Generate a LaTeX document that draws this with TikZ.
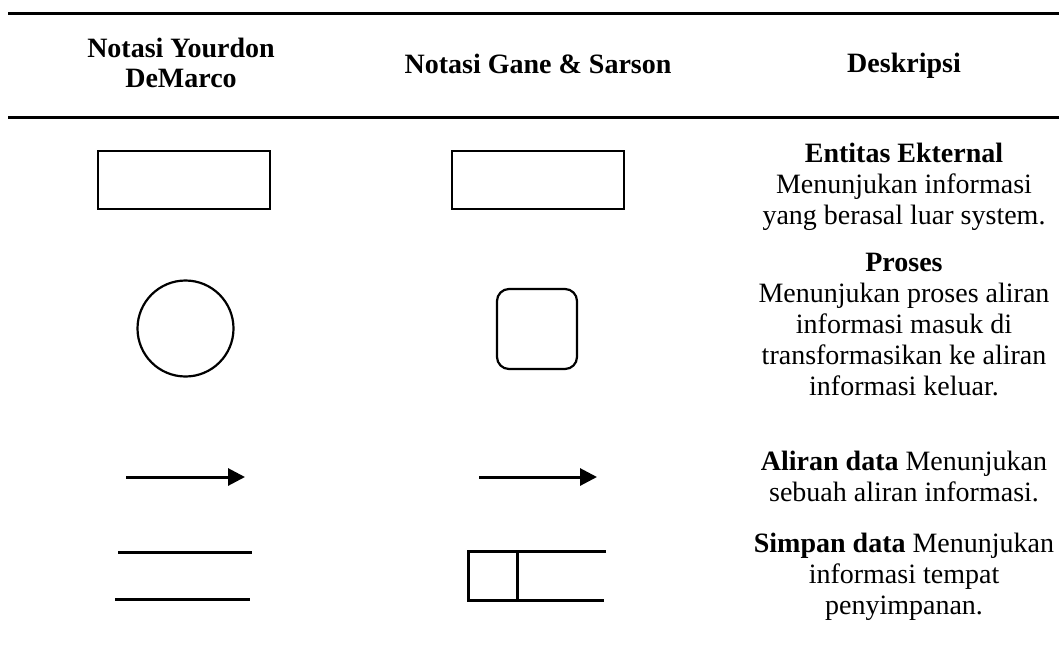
\documentclass[tikz,border=0pt]{standalone}
\usepackage{fontspec}
\setmainfont{Liberation Serif}
\usetikzlibrary{arrows.meta}

\begin{document}
\begin{tikzpicture}[x=1pt,y=-1pt,
  rulefill/.style={line width=2.2pt},
  shapeline/.style={draw,line width=2.2pt,inner sep=0pt},
  flow/.style={line width=3pt,-{Triangle[length=17pt,width=17pt]}},
  storeline/.style={line width=3pt},
  head/.style={font=\fontsize{28}{30}\selectfont\bfseries,align=center},
  desc/.style={font=\fontsize{28}{31}\selectfont,align=center}]
  \useasboundingbox (0,0) rectangle (1059,662);

  % table rules (with the faint cell gaps)
  \coordinate (t0) at (8,13.5);   \coordinate (t1) at (360.6,13.5);
  \coordinate (t2) at (361.4,13.5); \coordinate (t3) at (713.6,13.5);
  \coordinate (t4) at (714.4,13.5); \coordinate (t5) at (1059,13.5);
  \draw[rulefill] (t0) -- (t1) (t2) -- (t3) (t4) -- (t5);
  \coordinate (m0) at (8,117.5);   \coordinate (m1) at (360.6,117.5);
  \coordinate (m2) at (361.4,117.5); \coordinate (m3) at (713.6,117.5);
  \coordinate (m4) at (714.4,117.5); \coordinate (m5) at (1059,117.5);
  \draw[rulefill] (m0) -- (m1) (m2) -- (m3) (m4) -- (m5);

  % header row
  \node[head] (h1) at (181,63) {Notasi Yourdon\\DeMarco};
  \node[head] (h2) at (538,64) {Notasi Gane \& Sarson};
  \node[head] (h3) at (904,66) {Deskripsi};

  % external entity
  \node[shapeline,minimum width=172pt,minimum height=58pt] (ee1) at (184,180) {};
  \node[shapeline,minimum width=172pt,minimum height=58pt] (ee2) at (538,180) {};

  % process
  \node[shapeline,circle,minimum size=96pt] (pr1) at (185.5,328.5) {};
  \node[shapeline,rounded corners=12pt,minimum width=80pt,minimum height=80pt] (pr2) at (537,329) {};

  % data flow
  \coordinate (f1s) at (126,477); \coordinate (f1e) at (245,477);
  \draw[flow] (f1s) -- (f1e);
  \coordinate (f2s) at (479,477); \coordinate (f2e) at (597,477);
  \draw[flow] (f2s) -- (f2e);

  % data store, Yourdon/DeMarco
  \coordinate (s1a) at (118,552.5); \coordinate (s1b) at (252,552.5);
  \coordinate (s1c) at (115,599.5); \coordinate (s1d) at (250,599.5);
  \draw[storeline] (s1a) -- (s1b) (s1c) -- (s1d);

  % data store, Gane & Sarson
  \coordinate (s2a) at (606,551); \coordinate (s2b) at (468,551);
  \coordinate (s2c) at (468,600); \coordinate (s2d) at (604,600);
  \coordinate (s2e) at (517.5,551); \coordinate (s2f) at (517.5,600);
  \draw[storeline,line join=miter] (s2a) -- (s2b) -- (s2c) -- (s2d);
  \draw[line width=2.5pt] (s2e) -- (s2f);

  % descriptions
  \node[desc] (d1) at (904,187) {\textbf{Entitas Ekternal}\\Menunjukan informasi\\yang berasal luar system.};
  \node[desc] (d2) at (904,325) {\textbf{Proses}\\Menunjukan proses aliran\\informasi masuk di\\transformasikan ke aliran\\informasi keluar.};
  \node[desc] (d3) at (904,476) {\textbf{Aliran data} Menunjukan\\sebuah aliran informasi.};
  \node[desc] (d4) at (904,577) {\textbf{Simpan data} Menunjukan\\informasi tempat\\penyimpanan.};
\end{tikzpicture}
\end{document}
